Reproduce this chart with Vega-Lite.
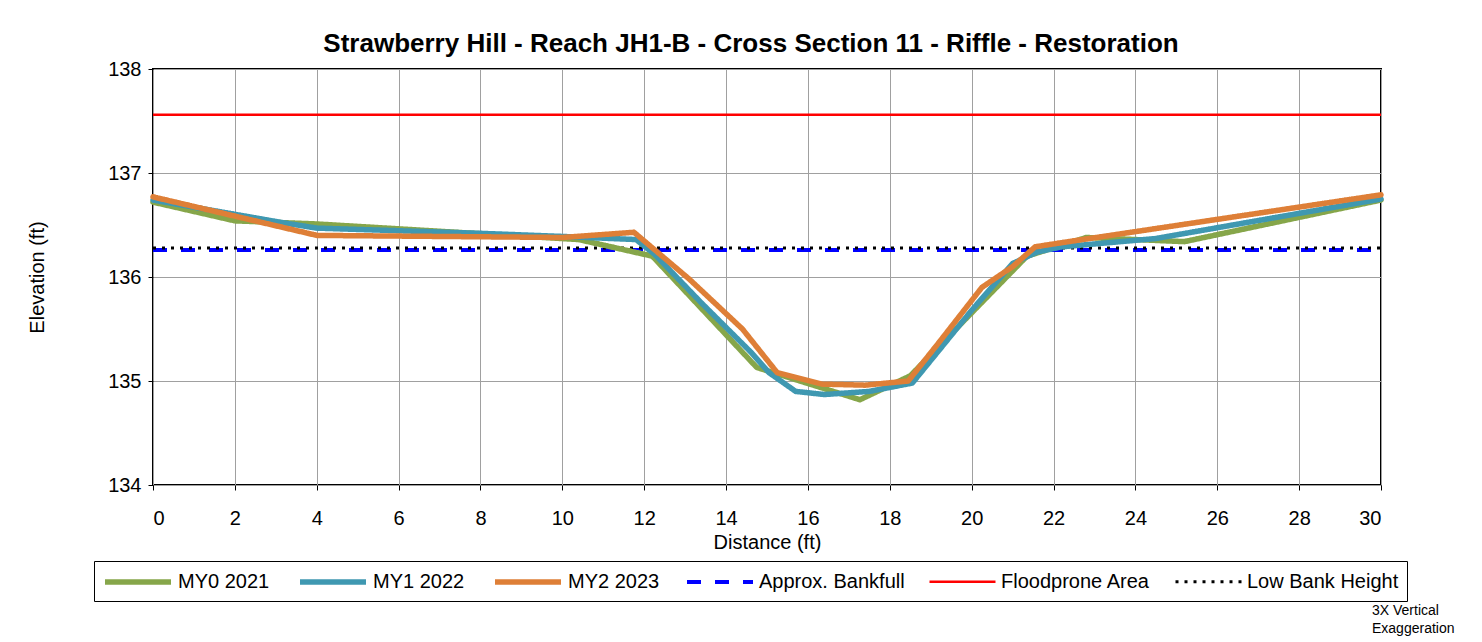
{
  "$schema": "https://vega.github.io/schema/vega-lite/v6.json",
  "width": 1228,
  "height": 416,
  "autosize": {"type": "none"},
  "padding": {"left": 153, "top": 69, "right": 101, "bottom": 157},
  "background": "white",
  "title": {
    "text": "Strawberry Hill - Reach JH1-B - Cross Section 11 - Riffle - Restoration",
    "fontSize": 26,
    "fontWeight": "bold",
    "color": "black",
    "font": "Liberation Sans",
    "anchor": "middle",
    "frame": "group",
    "dx": -16,
    "offset": 2
  },
  "datasets": {
    "profiles": [
      {"series": "MY0 2021", "distance": 0, "elevation": 136.72},
      {"series": "MY0 2021", "distance": 2.0, "elevation": 136.54},
      {"series": "MY0 2021", "distance": 4.0, "elevation": 136.51},
      {"series": "MY0 2021", "distance": 10.4, "elevation": 136.36},
      {"series": "MY0 2021", "distance": 12.2, "elevation": 136.2},
      {"series": "MY0 2021", "distance": 14.75, "elevation": 135.13},
      {"series": "MY0 2021", "distance": 17.27, "elevation": 134.82},
      {"series": "MY0 2021", "distance": 18.5, "elevation": 135.05},
      {"series": "MY0 2021", "distance": 21.35, "elevation": 136.2},
      {"series": "MY0 2021", "distance": 22.8, "elevation": 136.38},
      {"series": "MY0 2021", "distance": 25.2, "elevation": 136.34},
      {"series": "MY0 2021", "distance": 30, "elevation": 136.74},
      {"series": "MY1 2022", "distance": 0, "elevation": 136.74},
      {"series": "MY1 2022", "distance": 3.2, "elevation": 136.52},
      {"series": "MY1 2022", "distance": 4.0, "elevation": 136.47},
      {"series": "MY1 2022", "distance": 8.0, "elevation": 136.42},
      {"series": "MY1 2022", "distance": 10.0, "elevation": 136.39},
      {"series": "MY1 2022", "distance": 11.8, "elevation": 136.36},
      {"series": "MY1 2022", "distance": 12.25, "elevation": 136.22},
      {"series": "MY1 2022", "distance": 13.4, "elevation": 135.75},
      {"series": "MY1 2022", "distance": 14.6, "elevation": 135.28},
      {"series": "MY1 2022", "distance": 15.05, "elevation": 135.08},
      {"series": "MY1 2022", "distance": 15.7, "elevation": 134.9},
      {"series": "MY1 2022", "distance": 16.4, "elevation": 134.87},
      {"series": "MY1 2022", "distance": 17.5, "elevation": 134.9},
      {"series": "MY1 2022", "distance": 18.55, "elevation": 134.98},
      {"series": "MY1 2022", "distance": 20.0, "elevation": 135.68},
      {"series": "MY1 2022", "distance": 21.0, "elevation": 136.13},
      {"series": "MY1 2022", "distance": 21.6, "elevation": 136.24},
      {"series": "MY1 2022", "distance": 22.2, "elevation": 136.29},
      {"series": "MY1 2022", "distance": 24.5, "elevation": 136.37},
      {"series": "MY1 2022", "distance": 30, "elevation": 136.75},
      {"series": "MY2 2023", "distance": 0, "elevation": 136.77},
      {"series": "MY2 2023", "distance": 4.0, "elevation": 136.4},
      {"series": "MY2 2023", "distance": 10.0, "elevation": 136.38},
      {"series": "MY2 2023", "distance": 11.75, "elevation": 136.43},
      {"series": "MY2 2023", "distance": 13.1, "elevation": 135.98},
      {"series": "MY2 2023", "distance": 14.4, "elevation": 135.5},
      {"series": "MY2 2023", "distance": 15.25, "elevation": 135.08},
      {"series": "MY2 2023", "distance": 16.35, "elevation": 134.97},
      {"series": "MY2 2023", "distance": 17.4, "elevation": 134.96},
      {"series": "MY2 2023", "distance": 18.45, "elevation": 135.0},
      {"series": "MY2 2023", "distance": 19.2, "elevation": 135.37},
      {"series": "MY2 2023", "distance": 20.25, "elevation": 135.9},
      {"series": "MY2 2023", "distance": 21.0, "elevation": 136.1},
      {"series": "MY2 2023", "distance": 21.55, "elevation": 136.29},
      {"series": "MY2 2023", "distance": 22.2, "elevation": 136.33},
      {"series": "MY2 2023", "distance": 30, "elevation": 136.79}
    ],
    "refs": [
      {"series": "Floodprone Area", "distance": 0, "elevation": 137.56},
      {"series": "Floodprone Area", "distance": 30, "elevation": 137.56},
      {"series": "Approx. Bankfull", "distance": 0, "elevation": 136.26},
      {"series": "Approx. Bankfull", "distance": 30, "elevation": 136.26},
      {"series": "Low Bank Height", "distance": 0, "elevation": 136.28},
      {"series": "Low Bank Height", "distance": 30, "elevation": 136.28}
    ],
    "note": [
      {"note": "3X Vertical\nExaggeration"}
    ]
  },
  "layer": [
    {
      "data": {"name": "refs"},
      "mark": {"type": "line", "strokeCap": "butt"},
      "encoding": {
        "x": {
          "field": "distance",
          "type": "quantitative",
          "scale": {"domain": [0, 30], "nice": false, "zero": false},
          "axis": {
            "title": "Distance (ft)",
            "values": [0, 2, 4, 6, 8, 10, 12, 14, 16, 18, 20, 22, 24, 26, 28, 30],
            "format": "d",
            "labelPadding": 18,
            "titlePadding": 4
          }
        },
        "y": {
          "field": "elevation",
          "type": "quantitative",
          "scale": {"domain": [134, 138], "nice": false, "zero": false},
          "axis": {
            "title": "Elevation (ft)",
            "values": [134, 135, 136, 137, 138],
            "format": "d",
            "labelPadding": 7,
            "titlePadding": 60
          }
        },
        "color": {"field": "series", "type": "nominal", "legend": {
          "orient": "none", "legendX": -59, "legendY": 492, "direction": "horizontal",
          "title": null, "strokeColor": "black", "padding": 8, "columnPadding": 19,
          "labelFontSize": 20, "labelOffset": 50, "symbolSize": 400, "symbolType": "M-1,0H5.6",
          "labelColor": "black", "labelFont": "Liberation Sans", "fillColor": "white", "labelLimit": 400
        }, "scale": {"domain": ["MY0 2021", "MY1 2022", "MY2 2023", "Approx. Bankfull", "Floodprone Area", "Low Bank Height"], "range": ["#86A64A", "#3F98B1", "#DE7F37", "#0000FF", "#FF0000", "#000000"]}},
        "strokeDash": {"field": "series", "type": "nominal", "scale": {"domain": ["MY0 2021", "MY1 2022", "MY2 2023", "Approx. Bankfull", "Floodprone Area", "Low Bank Height"], "range": [[1, 0], [1, 0], [1, 0], [14, 14], [1, 0], [3, 6]]}},
        "strokeWidth": {"field": "series", "type": "nominal", "scale": {"type": "ordinal", "domain": ["MY0 2021", "MY1 2022", "MY2 2023", "Approx. Bankfull", "Floodprone Area", "Low Bank Height"], "range": [5.5, 5.5, 5.5, 4, 2.5, 3]}}
      }
    },
    {
      "data": {"name": "profiles"},
      "mark": {"type": "line", "strokeCap": "round", "strokeJoin": "round"},
      "encoding": {
        "x": {"field": "distance", "type": "quantitative"},
        "y": {"field": "elevation", "type": "quantitative"},
        "color": {"field": "series", "type": "nominal"},
        "strokeDash": {"field": "series", "type": "nominal"},
        "strokeWidth": {"field": "series", "type": "nominal", "scale": {"type": "ordinal", "domain": ["MY0 2021", "MY1 2022", "MY2 2023", "Approx. Bankfull", "Floodprone Area", "Low Bank Height"], "range": [5.5, 5.5, 5.5, 4, 2.5, 3]}}
      }
    },
    {
      "data": {"name": "note"},
      "mark": {"type": "text", "align": "left", "baseline": "top", "dx": -9, "dy": 119, "fontSize": 14, "lineBreak": "\n", "lineHeight": 18, "color": "black", "font": "Liberation Sans"},
      "encoding": {
        "x": {"datum": 30, "type": "quantitative"},
        "y": {"datum": 134, "type": "quantitative"},
        "text": {"field": "note", "type": "nominal"}
      }
    }
  ],
  "config": {
    "font": "Liberation Sans",
    "view": {"stroke": "black", "strokeWidth": 2},
    "axis": {
      "domain": false,
      "grid": true,
      "gridColor": "#A0A0A0",
      "gridWidth": 1,
      "tickColor": "black",
      "tickSize": 5,
      "labelFontSize": 20,
      "labelColor": "black",
      "labelFont": "Liberation Sans",
      "titleFont": "Liberation Sans",
      "titleFontSize": 20,
      "titleFontWeight": "normal",
      "titleColor": "black"
    }
  }
}
